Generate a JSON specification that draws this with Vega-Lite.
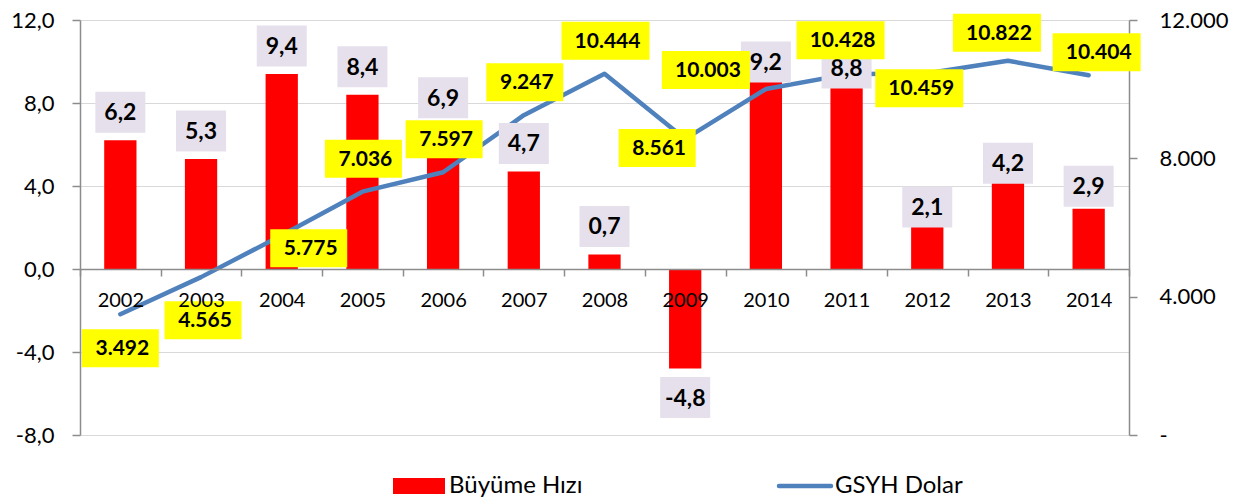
{
  "$schema": "https://vega.github.io/schema/vega-lite/v6.json",
  "width": 1049,
  "height": 415,
  "autosize": "none",
  "padding": {"left": 80, "top": 20, "right": 120, "bottom": 64},
  "background": "white",
  "config": {
    "font": "Lato",
    "locale": {"number": {"decimal": ",", "thousands": ".", "grouping": [3], "currency": ["", ""], "minus": "-"}},
    "view": {"stroke": null},
    "axis": {"labelFont": "Lato", "labelColor": "#000000", "domainColor": "#8C8C8C", "tickColor": "#8C8C8C", "domainWidth": 1.5, "tickWidth": 1.5},
    "legend": {"labelFontSize": 24, "labelFont": "Lato", "labelColor": "#000000", "labelLimit": 400}
  },
  "data": {
    "values": [
      {"year": 2002, "buyume": 6.2, "gsyh": 3492},
      {"year": 2003, "buyume": 5.3, "gsyh": 4565},
      {"year": 2004, "buyume": 9.4, "gsyh": 5775},
      {"year": 2005, "buyume": 8.4, "gsyh": 7036},
      {"year": 2006, "buyume": 6.9, "gsyh": 7597},
      {"year": 2007, "buyume": 4.7, "gsyh": 9247},
      {"year": 2008, "buyume": 0.7, "gsyh": 10444},
      {"year": 2009, "buyume": -4.8, "gsyh": 8561},
      {"year": 2010, "buyume": 9.2, "gsyh": 10003},
      {"year": 2011, "buyume": 8.8, "gsyh": 10428},
      {"year": 2012, "buyume": 2.1, "gsyh": 10459},
      {"year": 2013, "buyume": 4.2, "gsyh": 10822},
      {"year": 2014, "buyume": 2.9, "gsyh": 10404}
    ]
  },
  "encoding": {
    "x": {
      "field": "year", "type": "ordinal",
      "scale": {"paddingInner": 0, "paddingOuter": 0},
      "axis": {"orient": "bottom", "offset": -166, "title": null, "labelAngle": 0, "labelFontSize": 20, "tickBand": "extent", "tickSize": 7, "labelPadding": 14, "grid": false, "zindex": 1}
    }
  },
  "resolve": {"scale": {"y": "independent"}},
  "layer": [
    {
      "mark": {"type": "bar", "width": {"band": 0.4}},
      "encoding": {
        "y": {"field": "buyume", "type": "quantitative", "scale": {"domain": [-8, 12], "nice": false, "zero": false},
          "axis": {"orient": "left", "values": [-8, -4, 0, 4, 8, 12], "format": ".1f", "title": null, "labelFontSize": 22, "tickSize": 8, "labelPadding": 18, "grid": true, "gridColor": "#D9D9D9", "gridWidth": 1}},
        "y2": {"datum": 0},
        "color": {"datum": "Büyüme Hızı", "type": "nominal",
          "scale": {"domain": ["Büyüme Hızı", "GSYH Dolar"], "range": ["#FF0000", "#4F81BD"]},
          "legend": {"orient": "none", "legendX": 312, "legendY": 454, "direction": "horizontal", "title": null,
            "labelFontSize": 24, "symbolOffset": 15, "labelOffset": 18, "columnPadding": 187,
            "encode": {
              "symbols": {"update": {
                "shape": {"signal": "datum.value === 'GSYH Dolar' ? 'stroke' : 'M-1,-0.31H1V0.31H-1Z'"},
                "size": {"value": 2704},
                "fill": {"signal": "datum.value === 'GSYH Dolar' ? 'transparent' : '#FF0000'"},
                "stroke": {"signal": "datum.value === 'GSYH Dolar' ? '#4F81BD' : 'transparent'"},
                "strokeWidth": {"signal": "datum.value === 'GSYH Dolar' ? 4.5 : 0"},
                "strokeCap": {"value": "round"},
                "opacity": {"value": 1}, "fillOpacity": {"value": 1}, "strokeOpacity": {"value": 1}
              }},
              "labels": {"update": {"fontSize": {"value": 24}}}
            }
          }
        }
      }
    },
    {
      "mark": {"type": "line", "strokeWidth": 4.5, "strokeCap": "round", "strokeJoin": "round"},
      "encoding": {
        "y": {"field": "gsyh", "type": "quantitative", "scale": {"domain": [0, 12000], "nice": false},
          "axis": {"orient": "right", "values": [0, 4000, 8000, 12000], "format": ",d", "labelExpr": "datum.value === 0 ? '-' : datum.label", "title": null, "labelFontSize": 22, "tickSize": 8, "labelPadding": 22, "grid": false}},
        "color": {"datum": "GSYH Dolar", "type": "nominal"}
      }
    },
    {
      "encoding": {
        "y": {"field": "buyume", "type": "quantitative", "scale": {"domain": [-8, 12], "nice": false, "zero": false}, "axis": null}
      },
      "layer": [
        {"transform": [{"filter": {"field": "year", "range": [2002, 2008]}}],
         "layer": [
          {"mark": {"type": "point", "shape": "M-25,-20.5H25V20.5H-25Z", "size": 4, "filled": true, "color": "#E5E0EC", "opacity": 1, "strokeWidth": 0, "yOffset": -28}},
          {"mark": {"type": "text", "fontSize": 23, "fontWeight": "bold", "color": "#000000", "baseline": "middle", "yOffset": -27}, "encoding": {"text": {"field": "buyume", "type": "quantitative", "format": ".1f"}}}
        ]},
        {"transform": [{"filter": {"field": "year", "equal": 2009}}],
         "layer": [
          {"mark": {"type": "point", "shape": "M-25,-20.5H25V20.5H-25Z", "size": 4, "filled": true, "color": "#E5E0EC", "opacity": 1, "strokeWidth": 0, "yOffset": 29}},
          {"mark": {"type": "text", "fontSize": 23, "fontWeight": "bold", "color": "#000000", "baseline": "middle", "yOffset": 30}, "encoding": {"text": {"field": "buyume", "type": "quantitative", "format": ".1f"}}}
        ]},
        {"transform": [{"filter": {"field": "year", "equal": 2010}}],
         "layer": [
          {"mark": {"type": "point", "shape": "M-25,-20.5H25V20.5H-25Z", "size": 4, "filled": true, "color": "#E5E0EC", "opacity": 1, "strokeWidth": 0, "yOffset": -16}},
          {"mark": {"type": "text", "fontSize": 23, "fontWeight": "bold", "color": "#000000", "baseline": "middle", "yOffset": -15}, "encoding": {"text": {"field": "buyume", "type": "quantitative", "format": ".1f"}}}
        ]},
        {"transform": [{"filter": {"field": "year", "range": [2011, 2013]}}],
         "layer": [
          {"mark": {"type": "point", "shape": "M-25,-20.5H25V20.5H-25Z", "size": 4, "filled": true, "color": "#E5E0EC", "opacity": 1, "strokeWidth": 0, "yOffset": -18.5}},
          {"mark": {"type": "text", "fontSize": 23, "fontWeight": "bold", "color": "#000000", "baseline": "middle", "yOffset": -17.5}, "encoding": {"text": {"field": "buyume", "type": "quantitative", "format": ".1f"}}}
        ]},
        {"transform": [{"filter": {"field": "year", "equal": 2014}}],
         "layer": [
          {"mark": {"type": "point", "shape": "M-25,-20.5H25V20.5H-25Z", "size": 4, "filled": true, "color": "#E5E0EC", "opacity": 1, "strokeWidth": 0, "yOffset": -22.5}},
          {"mark": {"type": "text", "fontSize": 23, "fontWeight": "bold", "color": "#000000", "baseline": "middle", "yOffset": -21.5}, "encoding": {"text": {"field": "buyume", "type": "quantitative", "format": ".1f"}}}
        ]}
      ]
    },
    {
      "encoding": {
        "y": {"field": "gsyh", "type": "quantitative", "scale": {"domain": [0, 12000], "nice": false}, "axis": null},
        "shape": {"condition": {"test": "datum.gsyh >= 10000", "value": "M-44,-19H44V19H-44Z"}, "value": "M-38.5,-19H38.5V19H-38.5Z"}
      },
      "layer": [
        {"transform": [{"filter": {"field": "year", "range": [2005, 2008]}}],
         "layer": [
          {"mark": {"type": "point", "size": 4, "filled": true, "color": "#FFFF00", "opacity": 1, "strokeWidth": 0, "xOffset": 1, "yOffset": -33}},
          {"mark": {"type": "text", "fontSize": 21, "fontWeight": "bold", "color": "#000000", "baseline": "middle", "xOffset": 3, "yOffset": -32}, "encoding": {"text": {"field": "gsyh", "type": "quantitative", "format": ",d"}}}
        ]},
        {"transform": [{"filter": {"field": "year", "equal": 2002}}],
         "layer": [
          {"mark": {"type": "point", "size": 4, "filled": true, "color": "#FFFF00", "opacity": 1, "strokeWidth": 0, "xOffset": 0, "yOffset": 34}},
          {"mark": {"type": "text", "fontSize": 21, "fontWeight": "bold", "color": "#000000", "baseline": "middle", "xOffset": 2, "yOffset": 35}, "encoding": {"text": {"field": "gsyh", "type": "quantitative", "format": ",d"}}}
        ]},
        {"transform": [{"filter": {"field": "year", "equal": 2003}}],
         "layer": [
          {"mark": {"type": "point", "size": 4, "filled": true, "color": "#FFFF00", "opacity": 1, "strokeWidth": 0, "xOffset": 2, "yOffset": 43}},
          {"mark": {"type": "text", "fontSize": 21, "fontWeight": "bold", "color": "#000000", "baseline": "middle", "xOffset": 4, "yOffset": 44}, "encoding": {"text": {"field": "gsyh", "type": "quantitative", "format": ",d"}}}
        ]},
        {"transform": [{"filter": {"field": "year", "equal": 2004}}],
         "layer": [
          {"mark": {"type": "point", "size": 4, "filled": true, "color": "#FFFF00", "opacity": 1, "strokeWidth": 0, "xOffset": 27, "yOffset": 13}},
          {"mark": {"type": "text", "fontSize": 21, "fontWeight": "bold", "color": "#000000", "baseline": "middle", "xOffset": 29, "yOffset": 14}, "encoding": {"text": {"field": "gsyh", "type": "quantitative", "format": ",d"}}}
        ]},
        {"transform": [{"filter": {"field": "year", "equal": 2009}}],
         "layer": [
          {"mark": {"type": "point", "size": 4, "filled": true, "color": "#FFFF00", "opacity": 1, "strokeWidth": 0, "xOffset": -28, "yOffset": 9}},
          {"mark": {"type": "text", "fontSize": 21, "fontWeight": "bold", "color": "#000000", "baseline": "middle", "xOffset": -26, "yOffset": 10}, "encoding": {"text": {"field": "gsyh", "type": "quantitative", "format": ",d"}}}
        ]},
        {"transform": [{"filter": {"field": "year", "equal": 2010}}],
         "layer": [
          {"mark": {"type": "point", "size": 4, "filled": true, "color": "#FFFF00", "opacity": 1, "strokeWidth": 0, "xOffset": -60, "yOffset": -19}},
          {"mark": {"type": "text", "fontSize": 21, "fontWeight": "bold", "color": "#000000", "baseline": "middle", "xOffset": -58, "yOffset": -18}, "encoding": {"text": {"field": "gsyh", "type": "quantitative", "format": ",d"}}}
        ]},
        {"transform": [{"filter": {"field": "year", "equal": 2011}}],
         "layer": [
          {"mark": {"type": "point", "size": 4, "filled": true, "color": "#FFFF00", "opacity": 1, "strokeWidth": 0, "xOffset": -6, "yOffset": -34}},
          {"mark": {"type": "text", "fontSize": 21, "fontWeight": "bold", "color": "#000000", "baseline": "middle", "xOffset": -4, "yOffset": -33}, "encoding": {"text": {"field": "gsyh", "type": "quantitative", "format": ",d"}}}
        ]},
        {"transform": [{"filter": {"field": "year", "equal": 2012}}],
         "layer": [
          {"mark": {"type": "point", "size": 4, "filled": true, "color": "#FFFF00", "opacity": 1, "strokeWidth": 0, "xOffset": -8, "yOffset": 15}},
          {"mark": {"type": "text", "fontSize": 21, "fontWeight": "bold", "color": "#000000", "baseline": "middle", "xOffset": -6, "yOffset": 16}, "encoding": {"text": {"field": "gsyh", "type": "quantitative", "format": ",d"}}}
        ]},
        {"transform": [{"filter": {"field": "year", "equal": 2013}}],
         "layer": [
          {"mark": {"type": "point", "size": 4, "filled": true, "color": "#FFFF00", "opacity": 1, "strokeWidth": 0, "xOffset": -11, "yOffset": -28}},
          {"mark": {"type": "text", "fontSize": 21, "fontWeight": "bold", "color": "#000000", "baseline": "middle", "xOffset": -9, "yOffset": -27}, "encoding": {"text": {"field": "gsyh", "type": "quantitative", "format": ",d"}}}
        ]},
        {"transform": [{"filter": {"field": "year", "equal": 2014}}],
         "layer": [
          {"mark": {"type": "point", "size": 4, "filled": true, "color": "#FFFF00", "opacity": 1, "strokeWidth": 0, "xOffset": 8, "yOffset": -23}},
          {"mark": {"type": "text", "fontSize": 21, "fontWeight": "bold", "color": "#000000", "baseline": "middle", "xOffset": 10, "yOffset": -22}, "encoding": {"text": {"field": "gsyh", "type": "quantitative", "format": ",d"}}}
        ]}
      ]
    }
  ]
}
